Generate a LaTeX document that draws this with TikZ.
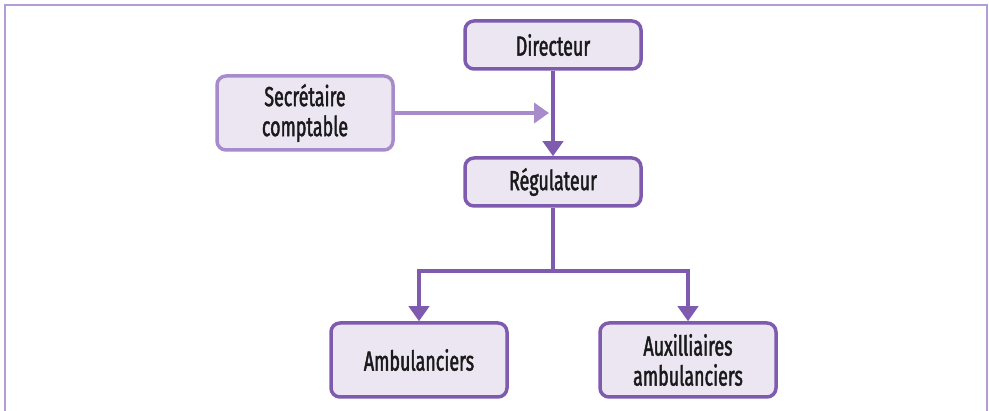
\documentclass[tikz,border=0pt]{standalone}
\usepackage{fontspec}
\setmainfont[FakeStretch=0.65,FakeBold=1.6]{Fira Sans}
\usetikzlibrary{arrows.meta}
\definecolor{frame}{HTML}{B39DD6}
\definecolor{dark}{HTML}{7E5BAE}
\definecolor{light}{HTML}{A88BCB}
\definecolor{boxfill}{HTML}{ECE6F3}
\definecolor{txt}{HTML}{1A1A1A}
\tikzset{
  box/.style={draw=dark, fill=boxfill, line width=3.5pt, rounded corners=9pt,
    minimum width=176pt, minimum height=46pt, align=center, text=txt,
    font=\fontsize{27.5}{30}\selectfont, inner sep=0pt},
  lbox/.style={box, draw=light},
  conn/.style={draw=dark, line width=4pt, -{Triangle[length=15pt,width=20pt]}},
  lconn/.style={draw=light, line width=4pt, -{Triangle[length=15pt,width=20pt]}},
  seg/.style={draw=dark, line width=4pt}
}
\begin{document}
\begin{tikzpicture}[x=1pt,y=-1pt]
\useasboundingbox (0,0) rectangle (989,411);
\draw[frame, line width=2.5pt] (5,411) -- (5,5) -- (987,5) -- (987,411);
\node[box, minimum height=48pt] (dir) at (553,45) {Directeur};
\node[lbox, minimum height=74pt] (sec) at (305,113) {Secrétaire\\comptable};
\node[box, minimum height=48pt] (reg) at (553,182) {Régulateur};
\node[box, minimum height=74pt] (amb) at (419,360) {Ambulanciers};
\node[box, minimum height=74pt] (aux) at (688,360) {Auxilliaires\\ambulanciers};
\coordinate (sectip) at (549,113);
\coordinate (split) at (553,271);
\draw[conn] (dir.south) -- (reg.north);
\draw[lconn] (sec.east) -- (sectip);
\draw[seg] (reg.south) -- (split);
\draw[conn] (split) -| (amb.north);
\draw[conn] (split) -| (aux.north);
\end{tikzpicture}
\end{document}
